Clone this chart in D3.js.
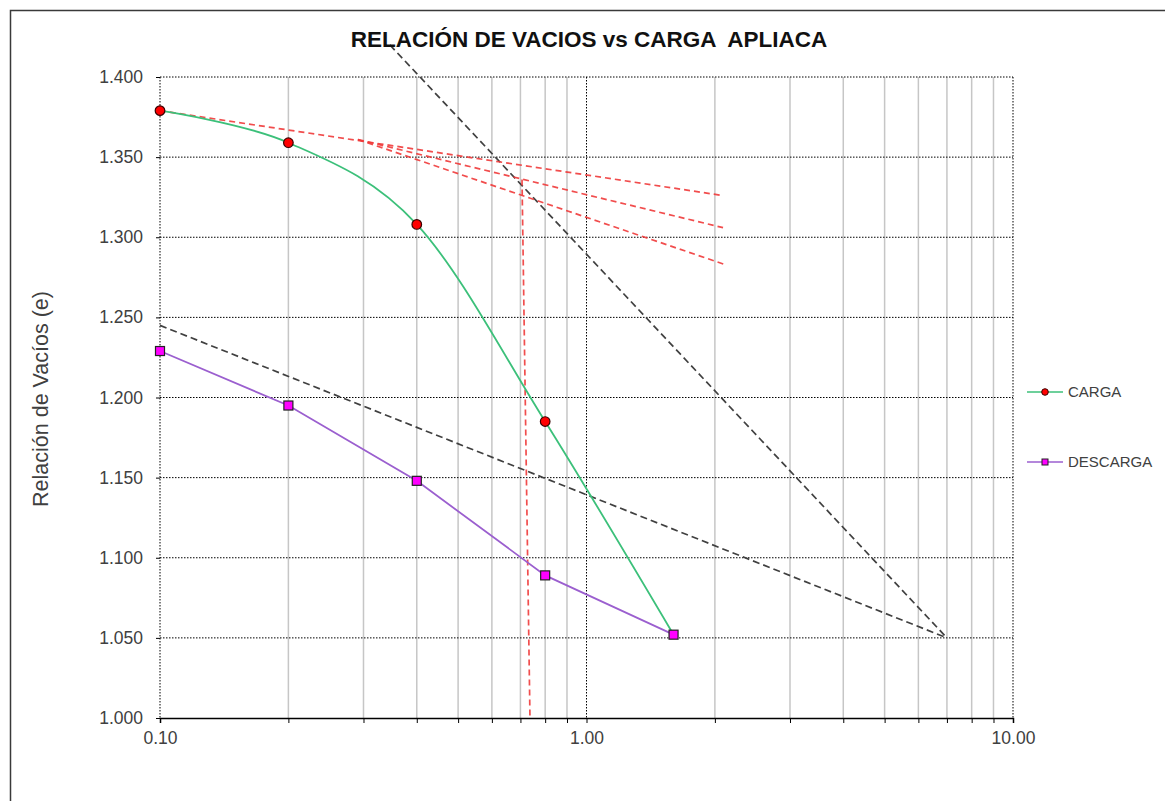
<!DOCTYPE html>
<html>
<head>
<meta charset="utf-8">
<script src="https://cdn.jsdelivr.net/npm/d3@7/dist/d3.min.js"></script>
<style>
  html, body { margin: 0; padding: 0; background: #fff; }
  svg { display: block; font-family: "Liberation Sans", Arial, sans-serif; }
</style>
</head>
<body>
<svg id="chart" width="1165" height="801"></svg>
<script>
// Consolidation test: void ratio vs applied load (log scale)
const cargaX = [0.1, 0.2, 0.4, 0.8, 1.6];
const cargaE = [1.379, 1.359, 1.308, 1.185, 1.052];
const descargaX = [1.6, 0.8, 0.4, 0.2, 0.1];
const descargaE = [1.052, 1.089, 1.148, 1.195, 1.229];

// Casagrande construction lines: [x1, e1, x2, e2]
const redLines = [
  [0.1, 1.379, 2.09, 1.326],
  [0.291, 1.361, 2.09, 1.306],
  [0.291, 1.361, 2.11, 1.283],
  [0.706, 1.336, 0.737, 1.000]
];
const blackLines = [
  [0.346, 1.420, 7.0, 1.050],
  [0.1, 1.245, 7.0, 1.050]
];

const yTicks = [1.000, 1.050, 1.100, 1.150, 1.200, 1.250, 1.300, 1.350, 1.400];
const xMajor = [0.1, 1, 10];
const xMinor = [0.2, 0.3, 0.4, 0.5, 0.6, 0.7, 0.8, 0.9, 2, 3, 4, 5, 6, 7, 8, 9];

const title = "RELACIÓN DE VACIOS vs CARGA  APLIACA";
const yTitle = "Relación de Vacíos (e)";
const seriesNames = ["CARGA", "DESCARGA"];

const svg = d3.select("#chart");
const L = 160, R = 1013, T = 77, B = 718;

const x = d3.scaleLog().domain([0.1, 10]).range([L, R]);
const y = d3.scaleLinear().domain([1.0, 1.4]).range([B, T]);

// outer chart frame
svg.append("rect")
  .attr("x", 10.5).attr("y", 10.5).attr("width", 1170).attr("height", 820)
  .attr("fill", "#fff").attr("stroke", "#3a3a3a").attr("stroke-width", 1.5);

// minor vertical gridlines
svg.append("g").selectAll("line").data(xMinor).join("line")
  .attr("x1", d => x(d)).attr("x2", d => x(d))
  .attr("y1", T).attr("y2", B)
  .attr("stroke", "#c6c6c6").attr("stroke-width", 1.5);

// major vertical gridlines (dotted)
svg.append("g").selectAll("line").data(xMajor).join("line")
  .attr("x1", d => x(d)).attr("x2", d => x(d))
  .attr("y1", T).attr("y2", B)
  .attr("stroke", "#000").attr("stroke-width", 1).attr("stroke-dasharray", "1.5,1.5");

// horizontal gridlines (dotted)
svg.append("g").selectAll("line").data(yTicks.filter(d => d > 1.0)).join("line")
  .attr("x1", L).attr("x2", R)
  .attr("y1", d => y(d)).attr("y2", d => y(d))
  .attr("stroke", "#000").attr("stroke-width", 1).attr("stroke-dasharray", "1.5,1.5");

// bottom axis
const xAxis = d3.axisBottom(x)
  .tickValues(xMajor.concat(xMinor))
  .tickSize(5)
  .tickFormat(d => xMajor.includes(d) ? d3.format(".2f")(d) : "");
const gx = svg.append("g").attr("transform", `translate(0,${B})`).call(xAxis);
gx.select(".domain").attr("stroke", "#000").attr("stroke-width", 1.5);
gx.selectAll(".tick line").attr("stroke", "#000");
gx.selectAll("text").attr("font-size", 17.5).attr("fill", "#404040")
  .attr("font-family", "Liberation Sans, Arial, sans-serif").attr("dy", "1.0em");

// left axis (labels and short ticks only)
const yAxis = d3.axisLeft(y).tickValues(yTicks).tickSize(4).tickFormat(d3.format(".3f"));
const gy = svg.append("g").attr("transform", `translate(${L},0)`).call(yAxis);
gy.select(".domain").remove();
gy.selectAll(".tick line").attr("stroke", "#000");
gy.selectAll("text").attr("font-size", 17.5).attr("fill", "#404040")
  .attr("font-family", "Liberation Sans, Arial, sans-serif").attr("x", -17);

// construction lines
const seg = d => ({ x1: x(d[0]), y1: y(d[1]), x2: x(d[2]), y2: y(d[3]) });
svg.append("g").selectAll("line").data(blackLines.map(seg)).join("line")
  .attr("x1", d => d.x1).attr("y1", d => d.y1).attr("x2", d => d.x2).attr("y2", d => d.y2)
  .attr("stroke", "#404040").attr("stroke-width", 1.7).attr("stroke-dasharray", "7,4");
svg.append("g").selectAll("line").data(redLines.map(seg)).join("line")
  .attr("x1", d => d.x1).attr("y1", d => d.y1).attr("x2", d => d.x2).attr("y2", d => d.y2)
  .attr("stroke", "#f03a3a").attr("stroke-opacity", 0.9).attr("stroke-width", 1.7).attr("stroke-dasharray", "6,4");

// series
const carga = cargaX.map((v, i) => [v, cargaE[i]]);
const descarga = descargaX.map((v, i) => [v, descargaE[i]]);

const smooth = d3.line().x(d => x(d[0])).y(d => y(d[1])).curve(d3.curveCardinal.tension(0));
const straight = d3.line().x(d => x(d[0])).y(d => y(d[1]));

svg.append("path").datum(carga).attr("d", smooth)
  .attr("fill", "none").attr("stroke", "#3cc07a").attr("stroke-width", 1.8);
svg.append("path").datum(descarga).attr("d", straight)
  .attr("fill", "none").attr("stroke", "#9b5fcf").attr("stroke-width", 1.8);

svg.append("g").selectAll("circle").data(carga.slice(0, 4)).join("circle")
  .attr("cx", d => x(d[0])).attr("cy", d => y(d[1])).attr("r", 4.8)
  .attr("fill", "#ff0000").attr("stroke", "#3a0000").attr("stroke-width", 1.2);
svg.append("g").selectAll("rect").data(descarga).join("rect")
  .attr("x", d => x(d[0]) - 4.5).attr("y", d => y(d[1]) - 4.5)
  .attr("width", 9).attr("height", 9)
  .attr("fill", "#ff00ff").attr("stroke", "#222").attr("stroke-width", 1.2);

// title
svg.append("text").attr("x", 589).attr("y", 47).attr("text-anchor", "middle")
  .attr("font-size", 22.5).attr("font-weight", "bold").attr("fill", "#111")
  .attr("xml:space", "preserve").style("white-space", "pre").text(title);

// y-axis title
svg.append("text").attr("transform", "translate(48,399) rotate(-90)")
  .attr("text-anchor", "middle").attr("font-size", 21.5).attr("fill", "#404040").text(yTitle);

// legend
const legend = svg.append("g");
const legY = [392, 462];
const legColors = ["#3cc07a", "#9b5fcf"];
legY.forEach((ly, i) => {
  legend.append("line").attr("x1", 1027).attr("x2", 1063).attr("y1", ly).attr("y2", ly)
    .attr("stroke", legColors[i]).attr("stroke-width", 1.6);
  if (i === 0) {
    legend.append("circle").attr("cx", 1045).attr("cy", ly).attr("r", 3.3)
      .attr("fill", "#ff0000").attr("stroke", "#3a0000").attr("stroke-width", 1);
  } else {
    legend.append("rect").attr("x", 1042).attr("y", ly - 3).attr("width", 6).attr("height", 6)
      .attr("fill", "#ff00ff").attr("stroke", "#222").attr("stroke-width", 1);
  }
  legend.append("text").attr("x", 1068).attr("y", ly + 5).attr("font-size", 15)
    .attr("fill", "#404040").text(seriesNames[i]);
});
</script>
</body>
</html>
